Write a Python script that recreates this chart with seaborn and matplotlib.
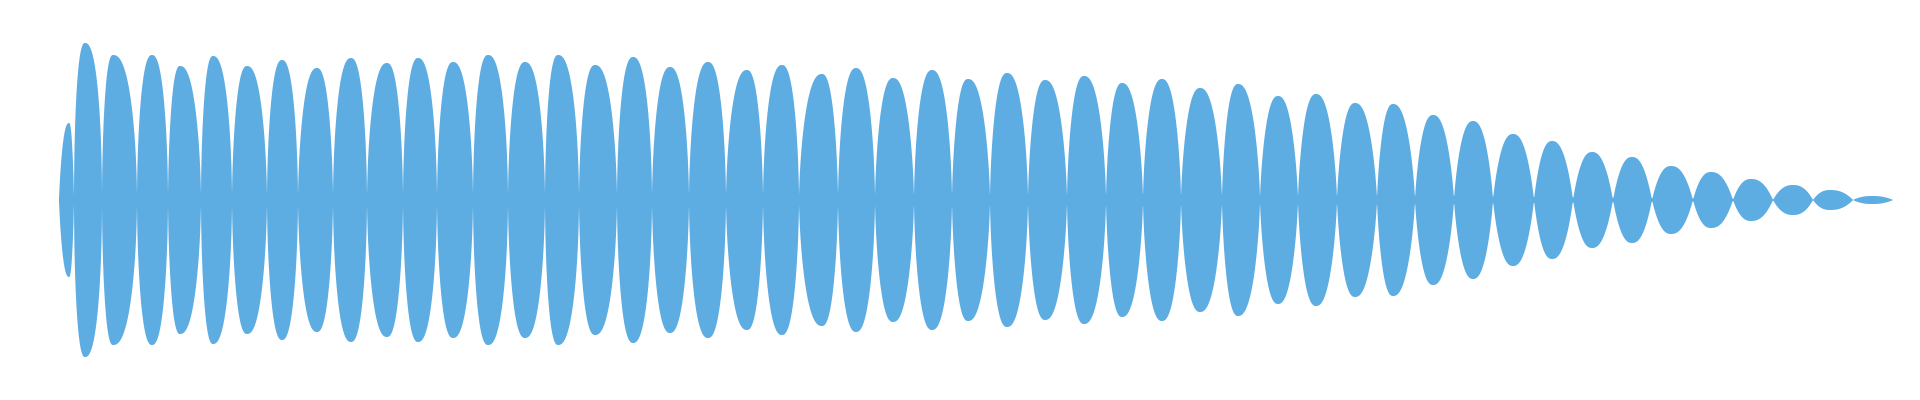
import numpy as np
import matplotlib
matplotlib.use("Agg")
import matplotlib.pyplot as plt
import seaborn as sns

# Waveform envelope (pixel units, centre line = 0)
# zero crossings between lobes
crossings = [59, 74, 102, 137, 168, 201, 232, 267, 298, 333, 367, 403, 437, 473,
             508, 545, 579, 617, 652, 689, 726, 763, 799, 838, 875, 914, 952, 990,
             1028, 1067, 1106, 1143, 1181, 1222, 1260, 1298, 1337, 1377, 1415, 1454,
             1493, 1534, 1573, 1613, 1652, 1693, 1733, 1773, 1813, 1853, 1893]
# where each lobe peaks
peak_x = [69, 85, 113, 152, 180, 213, 247, 282, 317, 351, 387, 418, 453, 488, 525,
          558, 595, 633, 670, 708, 747, 782, 822, 856, 893, 932, 968, 1007, 1045,
          1084, 1122, 1162, 1200, 1238, 1278, 1316, 1355, 1393, 1433, 1473, 1513,
          1552, 1592, 1632, 1671, 1711, 1751, 1793, 1830, 1872]
# peak amplitude of each lobe
amps = [77, 157, 145, 145, 134, 144, 134, 140, 132, 142, 137, 142, 138, 145, 138,
        145, 135, 143, 133, 138, 130, 135, 126, 132, 122, 130, 121, 127, 120, 124,
        117, 121, 112, 116, 104, 106, 97, 96, 85, 79, 66, 59, 48, 43, 34, 28, 21,
        15, 10, 4]

sns.set_style("white")

x = np.linspace(0, 1920, 24000)
env = np.zeros_like(x)
for i, (a, px) in enumerate(zip(amps, peak_x)):
    s, e = crossings[i], crossings[i + 1]
    # loud lobes are full and round, quiet ones taper to a point
    n = float(np.clip(0.55 + (145 - a) * 0.0045, 0.5, 1.0))
    m = (x >= s) & (x <= e)
    xm = x[m]
    u = np.where(xm < px, (px - xm) / (px - s), (xm - px) / (e - px))
    lobe = a * np.clip(1 - u ** 2.4, 0, 1) ** n
    env[m] = np.maximum(env[m], np.maximum(lobe, 0.05 * a))

fig = plt.figure(figsize=(19.2, 4), dpi=100)
ax = fig.add_axes([0, 0, 1, 1])
ax.fill_between(x, -env, env, color="#5DADE2", linewidth=0)
ax.set_xlim(0, 1920)
ax.set_ylim(-200, 200)
ax.axis("off")

fig.savefig("out.png", dpi=100, facecolor="white")
